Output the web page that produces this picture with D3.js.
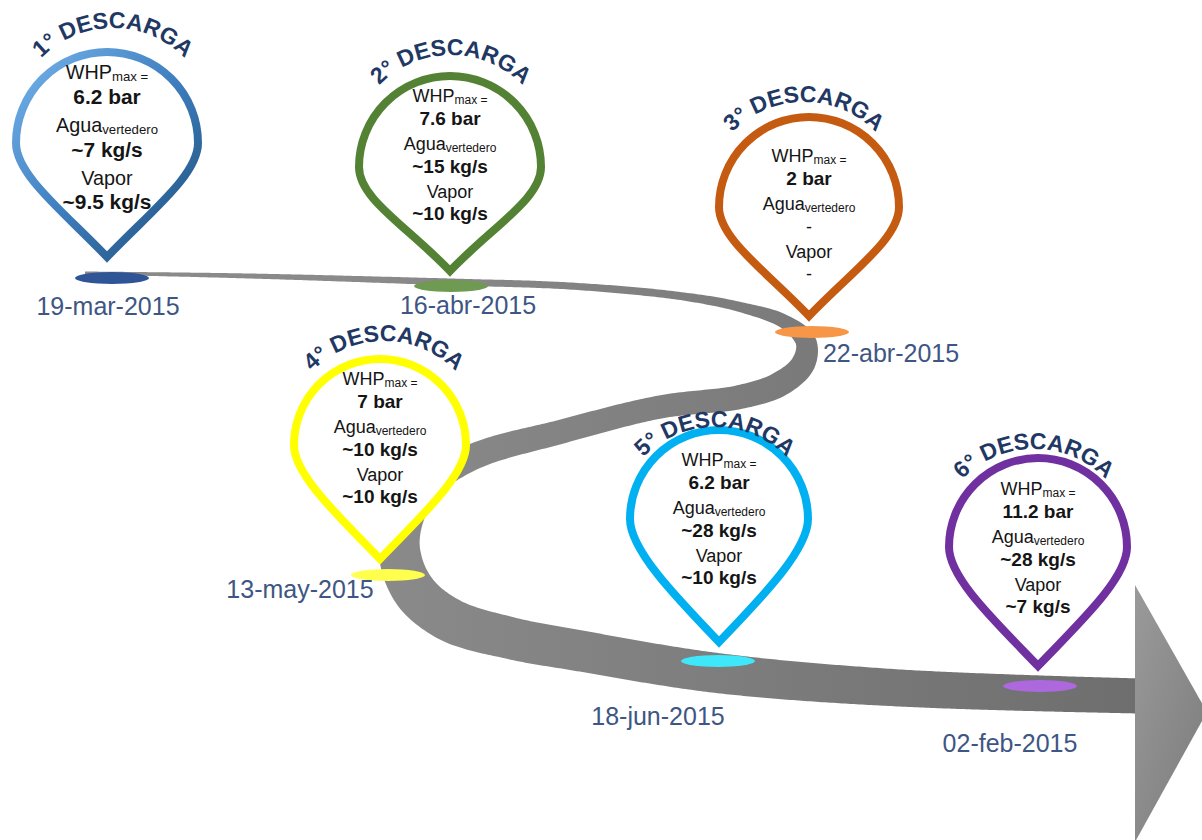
<!DOCTYPE html>
<html lang="es">
<head>
<meta charset="utf-8">
<title>Descargas 2015</title>
<script src="https://d3js.org/d3.v7.min.js"></script>
<style>
  body { margin: 0; background: #fff; }
  svg { display: block; font-family: "Liberation Sans", Arial, sans-serif; }
  .fecha { fill: #3e5683; font-size: 25px; }
  .titulo { fill: #1f3864; font-size: 23px; font-weight: bold; }
  .etq { fill: #151515; }
</style>
</head>
<body>
<svg id="chart" width="1202" height="840"></svg>
<script>
// ---- datos ----
var descargas = ["1° DESCARGA", "2° DESCARGA", "3° DESCARGA", "4° DESCARGA", "5° DESCARGA", "6° DESCARGA"];
var fechas = ["19-mar-2015", "16-abr-2015", "22-abr-2015", "13-may-2015", "18-jun-2015", "02-feb-2015"];
var whpMax = ["6.2 bar", "7.6 bar", "2 bar", "7 bar", "6.2 bar", "11.2 bar"];
var aguaVertedero = ["~7 kg/s", "~15 kg/s", "-", "~10 kg/s", "~28 kg/s", "~28 kg/s"];
var vapor = ["~9.5 kg/s", "~10 kg/s", "-", "~10 kg/s", "~10 kg/s", "~7 kg/s"];

// ---- layout (posiciones y estilos) ----
var marcas = [[112, 278], [451, 286], [812, 332], [388, 575], [718, 661], [1040, 686]];
var pinCentro = [[107, 143], [450, 167], [809, 207], [380, 445], [719, 519], [1038, 547]];
var pinRadio = [91, 91, 90, 86, 89, 89];
var pinPunta = [114, 104, 109, 114, 123, 119];
var textoArriba = [-71, -72, -52, -67, -60, -59];
var textoEscala = [1.1, 1, 1, 1, 1, 1];
var tituloX = [113, 451, 804, 384, 715, 1034];
var tituloBase = [28, 55, 102, 341, 427, 449];
var fechaPos = [[108, 315], [468, 314], [891, 362], [300, 598], [658, 725], [1010, 752]];
var colores = ["url(#gradAzul)", "#548235", "#c55a11", "#ffff00", "#00b0f0", "#7030a0"];
var coloresMarca = ["#2f5597", "#6f9a52", "#f79646", "#ffff4d", "#3ee8fa", "#ac68dc"];

// recorrido de la via (linea central y ancho)
var via = [[85, 273], [250, 276], [451, 282], [570, 286], [680, 296], [740, 307], [785, 322], [806, 342],
           [803, 364], [780, 384], [740, 397], [660, 407], [560, 432], [475, 456], [428, 484], [405, 520],
           [400, 555], [415, 592], [450, 620], [510, 638], [575, 650], [717, 673], [900, 688], [1140, 696]];
var viaAncho = [3, 5, 7, 7, 8, 10, 14, 21, 24, 25, 24, 23, 24, 26, 30, 36, 42, 44, 44, 42, 41, 40, 37, 35];
var flecha = [[1135, 585], [1207, 712], [1135, 842]];

var svg = d3.select("#chart");
var defs = svg.append("defs");

var gA = defs.append("linearGradient").attr("id", "gradAzul")
  .attr("x1", 0).attr("y1", 0).attr("x2", 1).attr("y2", 1);
gA.append("stop").attr("offset", 0).attr("stop-color", "#74b3ea");
gA.append("stop").attr("offset", 0.5).attr("stop-color", "#3f7fbf");
gA.append("stop").attr("offset", 1).attr("stop-color", "#1f4e79");

var gV = defs.append("linearGradient").attr("id", "gradVia")
  .attr("gradientUnits", "userSpaceOnUse").attr("x1", 380).attr("y1", 0).attr("x2", 1140).attr("y2", 0);
gV.append("stop").attr("offset", 0).attr("stop-color", "#8a8a8a");
gV.append("stop").attr("offset", 1).attr("stop-color", "#6e6e6e");

var gF = defs.append("linearGradient").attr("id", "gradFlecha")
  .attr("x1", 0).attr("y1", 0).attr("x2", 1).attr("y2", 1);
gF.append("stop").attr("offset", 0).attr("stop-color", "#9a9a9a");
gF.append("stop").attr("offset", 1).attr("stop-color", "#7b7b7b");

// ---- via como cinta de ancho variable ----
var linea = d3.line().curve(d3.curveCatmullRom.alpha(0.5));
var tmp = svg.append("path").attr("d", linea(via)).attr("fill", "none");
var nodo = tmp.node();
var L = nodo.getTotalLength();
var N = 700;
var muestras = d3.range(N + 1).map(function(i) {
  var p = nodo.getPointAtLength(L * i / N);
  return [p.x, p.y, L * i / N];
});
// longitud en cada punto de control
var cpLong = [];
var k = 0;
via.forEach(function(c) {
  var best = k, bd = Infinity;
  for (var j = k; j < muestras.length; j++) {
    var d = Math.hypot(muestras[j][0] - c[0], muestras[j][1] - c[1]);
    if (d < bd) { bd = d; best = j; }
    if (d > bd + 40) break;
  }
  k = best;
  cpLong.push(muestras[best][2]);
});
var ancho = d3.scaleLinear().domain(cpLong).range(viaAncho).clamp(true);
var izq = [], der = [];
muestras.forEach(function(m, i) {
  var a = muestras[Math.max(0, i - 1)], b = muestras[Math.min(N, i + 1)];
  var tx = b[0] - a[0], ty = b[1] - a[1], n = Math.hypot(tx, ty) || 1;
  var nx = -ty / n, ny = tx / n, w = ancho(m[2]) / 2;
  izq.push([m[0] + nx * w, m[1] + ny * w]);
  der.push([m[0] - nx * w, m[1] - ny * w]);
});
tmp.remove();
svg.append("path")
  .attr("d", d3.line().curve(d3.curveLinearClosed)(izq.concat(der.reverse())))
  .attr("fill", "url(#gradVia)");

svg.append("path")
  .attr("d", d3.line().curve(d3.curveLinearClosed)(flecha))
  .attr("fill", "url(#gradFlecha)");

// ---- marcas sobre la via ----
svg.selectAll("ellipse.marca").data(d3.range(marcas.length)).join("ellipse")
  .attr("class", "marca")
  .attr("cx", function(i) { return marcas[i][0]; })
  .attr("cy", function(i) { return marcas[i][1]; })
  .attr("rx", 37).attr("ry", 6)
  .attr("fill", function(i) { return coloresMarca[i]; });

// ---- pines ----
function pinPath(R, D) {
  var c1 = 0.35 * R, c2x = 0.48 * R, c2y = D - 0.5 * R;
  return "M0," + D +
    "C" + c2x + "," + c2y + " " + R + "," + c1 + " " + R + ",0" +
    "A" + R + "," + R + " 0 0 0 " + (-R) + ",0" +
    "C" + (-R) + "," + c1 + " " + (-c2x) + "," + c2y + " 0," + D + "Z";
}

var pines = svg.selectAll("g.pin").data(d3.range(descargas.length)).join("g")
  .attr("class", "pin")
  .attr("transform", function(i) { return "translate(" + pinCentro[i] + ")"; });

pines.append("path")
  .attr("d", function(i) { return pinPath(pinRadio[i], pinPunta[i]); })
  .attr("fill", "#fff")
  .attr("stroke", function(i) { return colores[i]; })
  .attr("stroke-width", 8)
  .attr("stroke-linejoin", "miter")
  .attr("stroke-miterlimit", 10);

var saltos = [0, 23, 48, 71, 96, 118];
pines.each(function(i) {
  var g = d3.select(this), s = textoEscala[i];
  var lineas = [
    { t: "WHP", sub: "max =" },
    { t: whpMax[i], b: true },
    { t: "Agua", sub: "vertedero" },
    { t: aguaVertedero[i], b: aguaVertedero[i] !== "-" },
    { t: "Vapor" },
    { t: vapor[i], b: vapor[i] !== "-" }
  ];
  lineas.forEach(function(l, j) {
    var y = textoArriba[i] + saltos[j] * s + 6.5 * s;
    var tx = g.append("text").attr("class", "etq")
      .attr("x", 0).attr("y", y)
      .attr("text-anchor", "middle")
      .attr("font-size", (l.b ? 19 : 18) * s)
      .attr("font-weight", l.b ? "bold" : "normal");
    tx.append("tspan").text(l.t);
    if (l.sub) tx.append("tspan").attr("font-size", 12 * s).attr("dy", 2).text(l.sub);
  });
});

// ---- titulos en arco ----
svg.selectAll("path.arco").data(d3.range(descargas.length)).join("path")
  .attr("class", "arco")
  .attr("id", function(i) { return "arco" + i; })
  .attr("fill", "none")
  .attr("d", function(i) {
    var r = 100, cx = tituloX[i], cy = tituloBase[i] + r;
    return "M" + (cx - r) + "," + cy + "A" + r + "," + r + " 0 0 1 " + (cx + r) + "," + cy;
  });

svg.selectAll("text.titulo").data(d3.range(descargas.length)).join("text")
  .attr("class", "titulo")
  .append("textPath")
  .attr("href", function(i) { return "#arco" + i; })
  .attr("startOffset", "50%")
  .attr("text-anchor", "middle")
  .text(function(i) { return descargas[i]; });

// ---- fechas ----
svg.selectAll("text.fecha").data(d3.range(fechas.length)).join("text")
  .attr("class", "fecha")
  .attr("x", function(i) { return fechaPos[i][0]; })
  .attr("y", function(i) { return fechaPos[i][1]; })
  .attr("text-anchor", "middle")
  .text(function(i) { return fechas[i]; });
</script>
</body>
</html>
